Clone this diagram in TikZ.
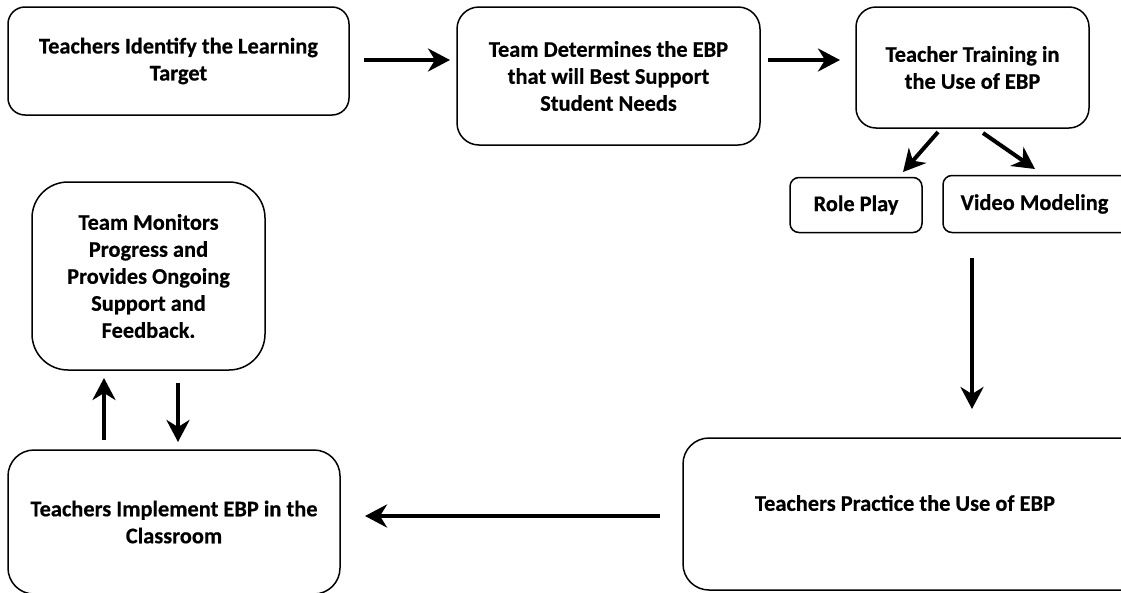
\documentclass[tikz,border=0pt]{standalone}
\usepackage{fontspec}
\setmainfont{Carlito}[BoldFeatures={FakeBold=0.5}]
\usetikzlibrary{arrows.meta}
\begin{document}
\begin{tikzpicture}[x=1pt,y=-1pt,
  box/.style={draw, line width=1.5pt, rectangle, align=center, inner sep=0pt},
  txt/.style={align=center, inner sep=0pt,
    font=\fontsize{22.4}{27}\selectfont\bfseries},
  flow/.style={line width=4pt, -{Stealth[length=22pt,width=23pt,inset=7pt]}}]
\useasboundingbox (0,0) rectangle (1121,592);
\clip (0,0) rectangle (1121,592);

% process boxes
\node[box, txt, rounded corners=17pt, minimum width=341pt, minimum height=108pt]
  (target) at (178.5,61) {Teachers Identify the Learning\\Target};
\node[box, txt, rounded corners=22pt, minimum width=303pt, minimum height=138pt]
  (determine) at (608.5,76) {Team Determines the EBP\\that will Best Support\\Student Needs};
\node[box, txt, rounded corners=20pt, minimum width=233pt, minimum height=121pt]
  (training) at (972.5,67.5) {Teacher Training in\\the Use of EBP};
\node[box, txt, rounded corners=9pt, minimum width=132pt, minimum height=55pt]
  (roleplay) at (856,205) {Role Play};
% the two boxes at the right run past the edge of the page
\node[box, rounded corners=9pt, minimum width=260pt, minimum height=57pt]
  (video) at (1073,204) {};
\node[txt] (videotext) at (1034.5,204) {Video Modeling};
\node[box, txt, rounded corners=36pt, minimum width=233pt, minimum height=188pt]
  (monitor) at (148.5,276) {Team Monitors\\Progress and\\Provides Ongoing\\Support and\\Feedback.};
\node[box, txt, rounded corners=26pt, minimum width=332pt, minimum height=144pt]
  (implement) at (174,522) {Teachers Implement EBP in the\\Classroom};
\node[box, rounded corners=26pt, minimum width=520pt, minimum height=152pt]
  (practice) at (943,514) {};
\node[txt] (practicetext) at (905,503) {Teachers Practice the Use of EBP};

% arrow end points
\coordinate (a1s) at (364,60);  \coordinate (a1e) at (450,60);
\coordinate (a2s) at (768,60);  \coordinate (a2e) at (840,60);
\coordinate (a3s) at (938,132); \coordinate (a3e) at (903,172);
\coordinate (a4s) at (983,133); \coordinate (a4e) at (1035,169);
\coordinate (a5s) at (972,258); \coordinate (a5e) at (972,409);
\coordinate (a6s) at (660,516); \coordinate (a6e) at (365,516);
\coordinate (a7s) at (104,440); \coordinate (a7e) at (104,378);
\coordinate (a8s) at (178,383); \coordinate (a8e) at (178,442);

\draw[flow] (a1s) -- (a1e);
\draw[flow] (a2s) -- (a2e);
\draw[flow] (a3s) -- (a3e);
\draw[flow] (a4s) -- (a4e);
\draw[flow] (a5s) -- (a5e);
\draw[flow] (a6s) -- (a6e);
\draw[flow] (a7s) -- (a7e);
\draw[flow] (a8s) -- (a8e);
\end{tikzpicture}
\end{document}
